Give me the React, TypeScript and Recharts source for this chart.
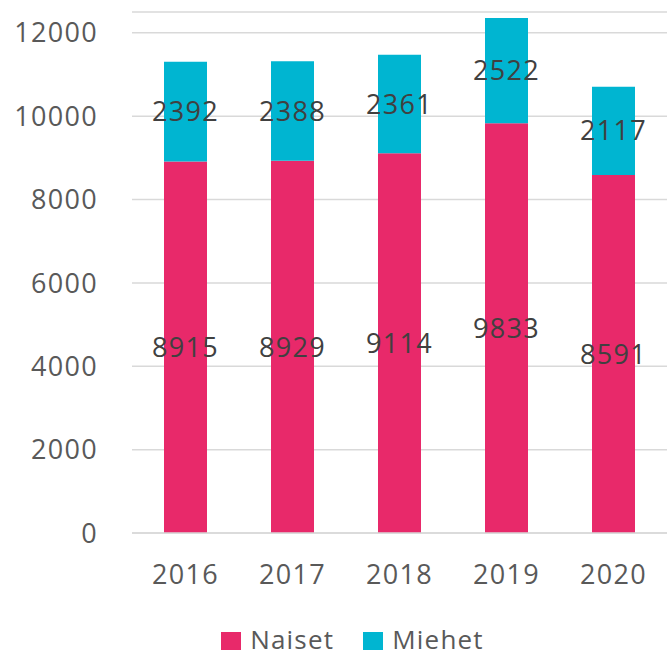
import { BarChart, Bar, XAxis, YAxis, CartesianGrid, Legend, LabelList } from "recharts";

const years = ["2016", "2017", "2018", "2019", "2020"];
const naiset = [8915, 8929, 9114, 9833, 8591];
const miehet = [2392, 2388, 2361, 2522, 2117];
const yTicks = [0, 2000, 4000, 6000, 8000, 10000, 12000];
const seriesOrder = ["Naiset", "Miehet"];

const PINK = "#E8296A";
const CYAN = "#00B5D1";
const FONT = "'Open Sans', sans-serif";

const data = years.map((year, i) => ({
  year,
  Naiset: naiset[i],
  Miehet: miehet[i],
}));

function LegendContent({ payload }: any) {
  const items = seriesOrder
    .map((name) => (payload || []).find((p: any) => p.value === name))
    .filter(Boolean);
  return (
    <div
      style={{
        display: "flex",
        justifyContent: "center",
        paddingLeft: 38,
        paddingTop: 2,
        fontFamily: FONT,
        fontSize: 26,
        lineHeight: "26px",
        color: "#595959",
        letterSpacing: 1.2,
      }}
    >
      {items.map((entry: any, i: number) => (
        <div
          key={entry.value}
          style={{ display: "flex", alignItems: "center", marginRight: i === 0 ? 29 : 0 }}
        >
          <span
            style={{
              display: "inline-block",
              width: 20,
              height: 18,
              background: entry.color,
              marginRight: 9,
              marginTop: 4,
            }}
          />
          <span>{entry.value}</span>
        </div>
      ))}
    </div>
  );
}

export default function App() {
  const tickStyle = { fill: "#595959", fontSize: 27, fontFamily: FONT, letterSpacing: 1.3 };
  const labelStyle = { fontSize: 27, fontFamily: FONT, letterSpacing: 1.3 };
  return (
    <div style={{ width: 667, height: 658 }}>
      <style>{`body{margin:0}`}</style>
      <BarChart
        width={667}
        height={658}
        data={data}
        margin={{ top: 12, right: 0, bottom: 0, left: 0 }}
        barSize={43}
      >
        <CartesianGrid vertical={false} stroke="#d9d9d9" strokeWidth={1.5} />
        <XAxis
          dataKey="year"
          axisLine={{ stroke: "#d9d9d9", strokeWidth: 1.5 }}
          tickLine={false}
          tickMargin={26}
          height={91}
          tick={tickStyle}
        />
        <YAxis
          width={132}
          domain={[0, 12500]}
          ticks={yTicks}
          axisLine={false}
          tickLine={false}
          tickMargin={28}
          tick={tickStyle}
        />
        <Legend
          verticalAlign="bottom"
          wrapperStyle={{ height: 34, left: 0, width: 667 }}
          content={<LegendContent />}
        />
        <Bar dataKey="Naiset" stackId="a" fill={PINK} isAnimationActive={false}>
          <LabelList dataKey="Naiset" position="center" fill="#404040" style={labelStyle} />
        </Bar>
        <Bar dataKey="Miehet" stackId="a" fill={CYAN} isAnimationActive={false}>
          <LabelList dataKey="Miehet" position="center" fill="#404040" style={labelStyle} />
        </Bar>
      </BarChart>
    </div>
  );
}
